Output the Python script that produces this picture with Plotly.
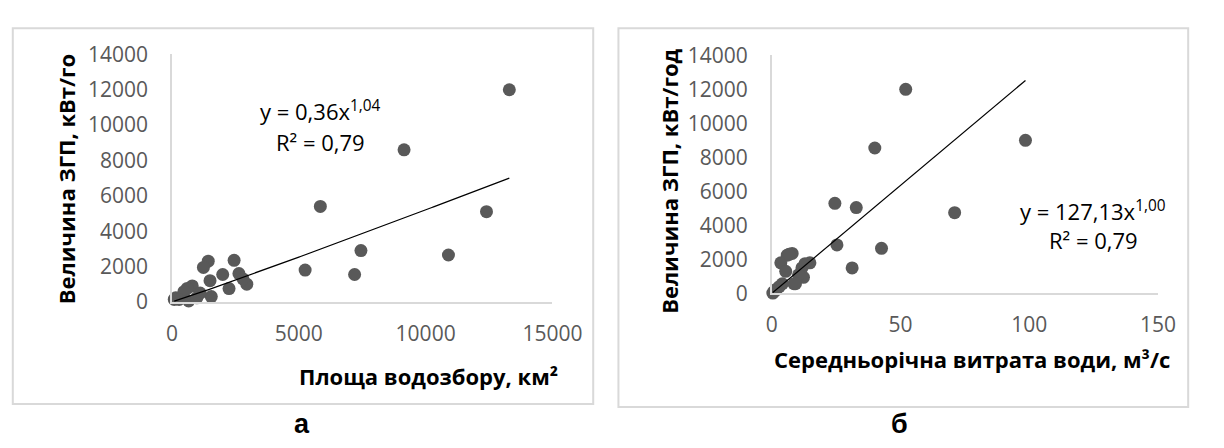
import numpy as np
import plotly.graph_objects as go

# Panel "а": catchment area (km²) vs. ZGP value
area_km2 = [13300, 9150, 5850, 12400, 7450, 10900, 5250, 7200, 1430, 2450, 1240, 2000,
            2640, 1500, 2950, 2250, 1550, 800, 600, 470, 1110, 150, 280, 90, 660, 980, 2800]
zgp_a = [12000, 8600, 5400, 5100, 2900, 2650, 1800, 1550, 2300, 2350, 1950, 1550,
         1600, 1200, 1000, 750, 300, 900, 760, 580, 500, 230, 140, 140, 50, 230, 1300]

# Panel "б": mean annual discharge (m³/s) vs. ZGP value
discharge = [52, 98.5, 40, 24.5, 32.8, 71, 25.3, 42.6, 31.2, 14.8, 7.9, 6.0, 3.5, 11.7,
             12.3, 8.6, 1.5, 0.4, 6.7, 12.9, 5.4, 10.4, 9.2, 4.1, 1.6, 2.9, 0.8]
zgp_b = [12000, 9000, 8550, 5300, 5050, 4750, 2850, 2650, 1500, 1800, 2350, 2250, 1800, 1500,
         950, 570, 220, 20, 2300, 1750, 1300, 1100, 570, 570, 200, 400, 100]

# Power trendline coefficients (from the chart labels)
fit_a = (0.36, 1.04)
fit_b = (127.13, 1.00)

y_ticks = list(range(0, 14001, 2000))
x_ticks_a = [0, 5000, 10000, 15000]
x_ticks_b = [0, 50, 100, 150]

W, H = 1224, 448
def px(x): return x / W
def py(y): return 1 - y / H

MARK = "#595959"
AX = "#d9d9d9"
FONT = "Open Sans"

fig = go.Figure()

fig.add_trace(go.Scatter(x=area_km2, y=zgp_a, mode="markers", xaxis="x", yaxis="y",
                         marker=dict(color=MARK, size=13), cliponaxis=False, showlegend=False))
xa = np.linspace(min(area_km2), max(area_km2), 200)
fig.add_trace(go.Scatter(x=xa, y=fit_a[0] * xa ** fit_a[1], mode="lines", xaxis="x", yaxis="y",
                         line=dict(color="black", width=1.2), cliponaxis=False, showlegend=False))

fig.add_trace(go.Scatter(x=discharge, y=zgp_b, mode="markers", xaxis="x2", yaxis="y2",
                         marker=dict(color=MARK, size=13), cliponaxis=False, showlegend=False))
xb = np.linspace(min(discharge), max(discharge), 200)
fig.add_trace(go.Scatter(x=xb, y=fit_b[0] * xb ** fit_b[1], mode="lines", xaxis="x2", yaxis="y2",
                         line=dict(color="black", width=1.2), cliponaxis=False, showlegend=False))

tickfont = dict(family=FONT, size=21, color=MARK)
common_x = dict(showline=True, linecolor=AX, linewidth=1.5, showgrid=False, zeroline=False,
                tickfont=tickfont, tickformat="d", ticks="", ticklabelstandoff=12)
common_y = dict(showline=True, linecolor=AX, linewidth=1.5, showgrid=False, zeroline=False,
                tickfont=tickfont, tickformat="d", ticks="", ticklabelstandoff=18,
                range=[0, 14000], tickvals=y_ticks)

fig.update_layout(
    width=W, height=H, margin=dict(l=0, r=0, t=0, b=0),
    paper_bgcolor="white", plot_bgcolor="white",
    xaxis=dict(domain=[px(171), px(563)], anchor="y", range=[0, 15000], tickvals=x_ticks_a, **common_x),
    yaxis=dict(domain=[py(306), py(42)], anchor="x", **common_y),
    xaxis2=dict(domain=[px(789), px(1187)], anchor="y2", range=[0, 150], tickvals=x_ticks_b, **common_x),
    yaxis2=dict(domain=[py(297), py(43)], anchor="x2", **common_y),
)

# panel borders
fig.add_shape(type="rect", xref="paper", yref="paper", x0=px(7), x1=px(605), y0=py(415), y1=py(14),
              line=dict(color=AX, width=2))
fig.add_shape(type="rect", xref="paper", yref="paper", x0=px(631), x1=px(1218), y0=py(418), y1=py(14),
              line=dict(color=AX, width=2))

titlefont = dict(family=FONT, size=22, color="black", weight="bold")
eqfont = dict(family=FONT, size=22, color="black")

def ann(x, y, text, font, angle=0):
    fig.add_annotation(x=px(x), y=py(y), xref="paper", yref="paper", text=text, showarrow=False,
                       font=font, textangle=angle, xanchor="center", yanchor="middle")

ann(435, 385, "Площа водозбору, км²", titlefont)
ann(62, 175, "Величина ЗГП, кВт/го", titlefont, -90)
ann(995, 367, "Середньорічна витрата води, м³/с", titlefont)
ann(683, 177, "Величина ЗГП, кВт/год", titlefont, -90)

ann(324, 102, "y = 0,36x<sup>1,04</sup>", eqfont)
ann(324, 135, "R² = 0,79", eqfont)
ann(1120, 208, "y = 127,13x<sup>1,00</sup>", eqfont)
ann(1120, 240, "R² = 0,79", eqfont)

letterfont = dict(family="Liberation Sans", size=27, color="black", weight="bold")
ann(305, 436, "а", letterfont)
ann(921, 436, "б", letterfont)

post = (
    "document.documentElement.style.margin='0';document.documentElement.style.overflow='hidden';"
    "document.body.style.margin='0';document.body.style.overflow='hidden';"
)
fig.write_html("out.html", config={"displayModeBar": False}, post_script=post)
